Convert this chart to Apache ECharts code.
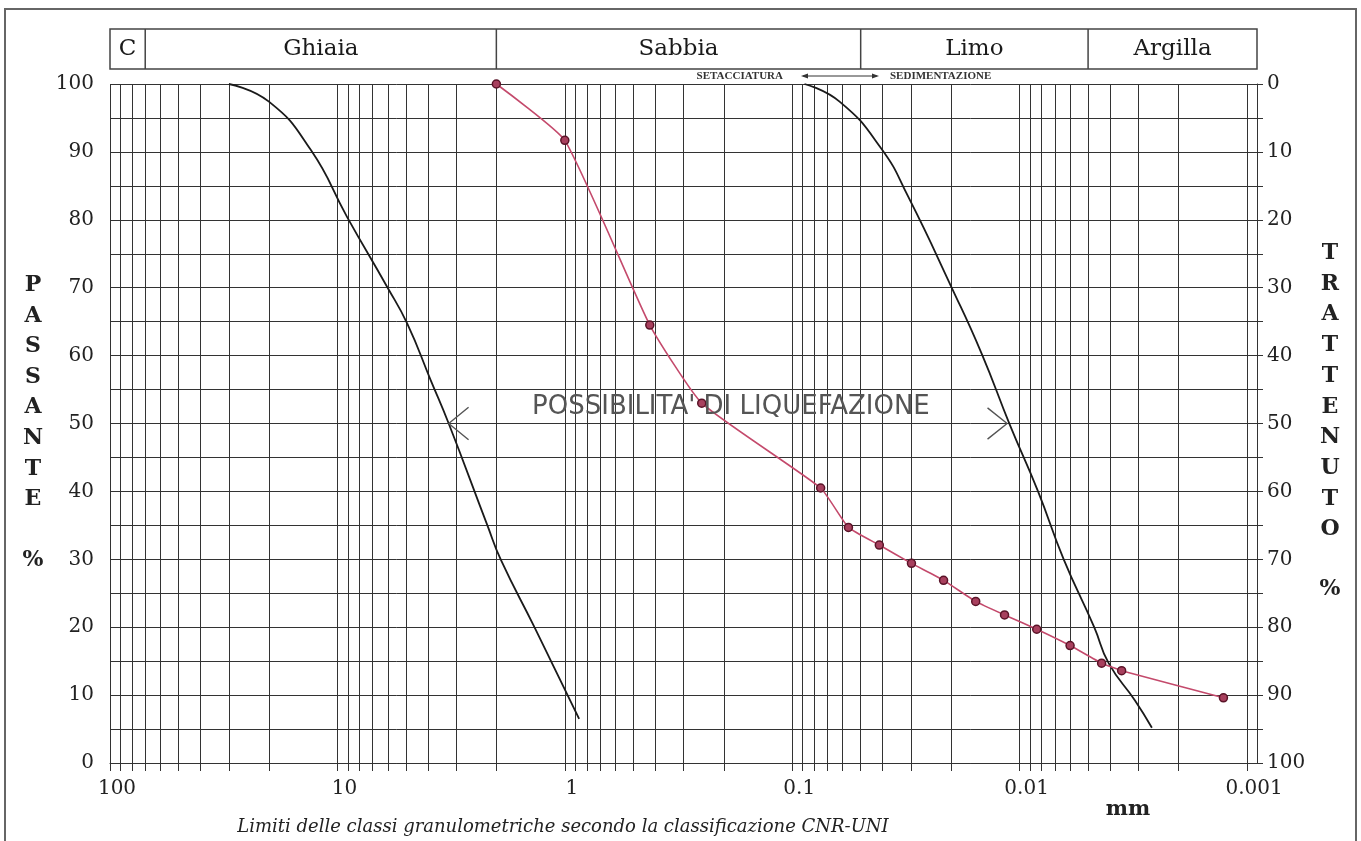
<!DOCTYPE html>
<html><head><meta charset="utf-8">
<script src="https://cdn.jsdelivr.net/npm/echarts@6/dist/echarts.min.js"></script>
<style>html,body{margin:0;padding:0;background:#fff}#c{width:1361px;height:841px}</style>
</head><body><div id="c"></div>
<script>
// ---- data ----
const sampleDiameterMm = [2, 1.0, 0.423, 0.25, 0.075, 0.0566, 0.0414, 0.0299, 0.0216, 0.0156, 0.01165, 0.00841, 0.0060, 0.00436, 0.00356, 0.00127];
const samplePassingPct = [100, 91.7, 64.5, 53.0, 40.5, 34.7, 32.1, 29.4, 26.9, 23.8, 21.8, 19.7, 17.3, 14.7, 13.6, 9.6];
const upperLimitMm  = [30, 20, 13.1, 9.06, 6.04, 4.93, 3.89, 3.24, 2.19, 1.91, 1.36, 0.865];
const upperLimitPct = [100, 97.4, 90.3, 80.4, 70.1, 64.7, 56.4, 50, 35, 29.9, 20, 6.5];
const lowerLimitMm  = [0.0883, 0.0619, 0.0406, 0.0309, 0.01995, 0.01469, 0.01104, 0.0083, 0.0064, 0.0047, 0.00406, 0.00311, 0.00262];
const lowerLimitPct = [100, 97.4, 90.5, 83.4, 70.1, 60.3, 49.8, 40, 30, 20, 14.7, 9.2, 5.2];
const xTickLabelsMm = [100, 10, 1, 0.1, 0.01, 0.001];
const passanteTickLabels = [0, 10, 20, 30, 40, 50, 60, 70, 80, 90, 100];
const passanteGridLines = [0, 5, 10, 15, 20, 25, 30, 35, 40, 45, 50, 55, 60, 65, 70, 75, 80, 85, 90, 95, 100];
const classNames = ['C', 'Ghiaia', 'Sabbia', 'Limo', 'Argilla'];
const classBoundsMm = [100, 70, 2, 0.05, 0.005];
const leftArrowMm = [2.65, 3.24, 2.65];
const leftArrowPct = [52.4, 50, 47.6];
const rightArrowMm = [0.01384, 0.01135, 0.01384];
const rightArrowPct = [52.3, 50, 47.7];

// ---- layout constants ----
const xAxisEndMm = 0.000904;
const SERIF = "'DejaVu Serif', 'Liberation Serif', serif";
const GRID = '#333';

const lg = v => Math.log10(v);
const zip = (xs, ys) => xs.map((x, i) => [lg(x), ys[i]]);
const xGrid = [];
for (let k = -3; k <= 1; k++) for (let m = 1; m <= 9; m++) xGrid.push(lg(m * Math.pow(10, k)));
xGrid.push(2);

const chart = echarts.init(document.getElementById('c'), null, {renderer: 'canvas'});
chart.setOption({
  animation: false,
  backgroundColor: '#fff',
  grid: {left: 110, right: 104, top: 84, bottom: 78, containLabel: false},
  xAxis: {
    type: 'value', inverse: true, min: lg(xAxisEndMm), max: 2,
    axisLine: {show: true, lineStyle: {color: GRID, width: 1}},
    axisTick: {show: true, inside: false, length: 8, customValues: xGrid, lineStyle: {color: GRID, width: 1}},
    axisLabel: {
      customValues: xTickLabelsMm.map(lg), margin: 16, padding: [0, 0, 0, 14],
      fontFamily: SERIF, fontSize: 20, color: '#222',
      formatter: v => { const m = xTickLabelsMm.find(t => Math.abs(lg(t) - v) < 1e-9); return m === undefined ? '' : String(m); }
    },
    splitLine: {show: true, lineStyle: {color: GRID, width: 1}}
  },
  yAxis: [{
    type: 'value', min: 0, max: 100, position: 'left',
    axisLine: {show: true, lineStyle: {color: GRID, width: 1}},
    axisTick: {show: true, inside: false, length: 8, customValues: passanteGridLines, lineStyle: {color: GRID}},
    axisLabel: {customValues: passanteTickLabels, margin: 16, fontFamily: SERIF, fontSize: 20, color: '#222'},
    splitLine: {show: true, lineStyle: {color: GRID, width: 1}}
  }, {
    type: 'value', min: 0, max: 100, inverse: true, position: 'right',
    axisLine: {show: true, lineStyle: {color: GRID, width: 1}},
    axisTick: {show: true, inside: false, length: 6, customValues: passanteGridLines, lineStyle: {color: GRID}},
    axisLabel: {customValues: passanteTickLabels, margin: 10, fontFamily: SERIF, fontSize: 20, color: '#222'},
    splitLine: {show: false}
  }],
  series: [
    {name: 'limite superiore', type: 'line', data: zip(upperLimitMm, upperLimitPct), smooth: 0.5, showSymbol: false,
     lineStyle: {color: '#1a1a1a', width: 1.8}, z: 3},
    {name: 'limite inferiore', type: 'line', data: zip(lowerLimitMm, lowerLimitPct), smooth: 0.5, showSymbol: false,
     lineStyle: {color: '#1a1a1a', width: 1.8}, z: 3},
    {name: 'freccia sx', type: 'line', data: zip(leftArrowMm, leftArrowPct), showSymbol: false,
     lineStyle: {color: '#555', width: 1.4}, z: 3},
    {name: 'freccia dx', type: 'line', data: zip(rightArrowMm, rightArrowPct), showSymbol: false,
     lineStyle: {color: '#555', width: 1.4}, z: 3},
    {name: 'campione', type: 'line', data: zip(sampleDiameterMm, samplePassingPct), smooth: 0.15,
     symbol: 'circle', symbolSize: 8, showSymbol: true,
     lineStyle: {color: '#c44a6c', width: 1.6},
     itemStyle: {color: '#a8405e', borderColor: '#5a1428', borderWidth: 1.5}, z: 5}
  ]
});

// ---- decorations positioned from the axes ----
const px = mm => chart.convertToPixel({xAxisIndex: 0}, lg(mm));
const py = p => chart.convertToPixel({yAxisIndex: 0}, p);
const xRight = px(xAxisEndMm);
const edges = classBoundsMm.map(px).concat([xRight]);
const hTop = 29, hBot = 69;
const g = [];
g.push({type: 'rect', shape: {x: 5, y: 9, width: 1351, height: 850}, style: {fill: 'none', stroke: '#666', lineWidth: 2}});
g.push({type: 'rect', shape: {x: edges[0], y: hTop, width: xRight - edges[0], height: hBot - hTop}, style: {fill: '#fff', stroke: '#444', lineWidth: 1.5}});
for (let i = 1; i < edges.length - 1; i++) {
  g.push({type: 'line', shape: {x1: edges[i], y1: hTop, x2: edges[i], y2: hBot}, style: {stroke: '#444', lineWidth: 1.5}});
}
classNames.forEach((n, i) => {
  g.push({type: 'text', x: (edges[i] + edges[i + 1]) / 2, y: 49,
    style: {text: n, font: `23px ${SERIF}`, fill: '#1a1a1a', align: 'center', verticalAlign: 'middle'}});
});
// sieving / sedimentation note
g.push({type: 'text', x: 783, y: 76, style: {text: 'SETACCIATURA', font: "bold 11px 'Liberation Serif', serif", fill: '#333', align: 'right', verticalAlign: 'middle'}});
g.push({type: 'text', x: 890, y: 76, style: {text: 'SEDIMENTAZIONE', font: "bold 11px 'Liberation Serif', serif", fill: '#333', align: 'left', verticalAlign: 'middle'}});
g.push({type: 'line', shape: {x1: 803, y1: 76, x2: 877, y2: 76}, style: {stroke: '#333', lineWidth: 1}});
g.push({type: 'polygon', shape: {points: [[801, 76], [808, 73.5], [808, 78.5]]}, style: {fill: '#333'}});
g.push({type: 'polygon', shape: {points: [[879, 76], [872, 73.5], [872, 78.5]]}, style: {fill: '#333'}});
// liquefaction label
g.push({type: 'text', x: px(0.186), y: py(52.4), z: 10,
  style: {text: "POSSIBILITA' DI LIQUEFAZIONE", font: "26px 'DejaVu Sans', sans-serif", fill: '#555', align: 'center', verticalAlign: 'middle'}});
// axis titles
g.push({type: 'text', x: 33, y: 270, style: {text: 'PASSANTE'.split('').join('\n'), font: `bold 22px ${SERIF}`, lineHeight: 30.6, fill: '#222', align: 'center', verticalAlign: 'top'}});
g.push({type: 'text', x: 33, y: 560, style: {text: '%', font: `bold 22px ${SERIF}`, fill: '#222', align: 'center', verticalAlign: 'middle'}});
g.push({type: 'text', x: 1330, y: 238, style: {text: 'TRATTENUTO'.split('').join('\n'), font: `bold 22px ${SERIF}`, lineHeight: 30.7, fill: '#222', align: 'center', verticalAlign: 'top'}});
g.push({type: 'text', x: 1330, y: 589, style: {text: '%', font: `bold 22px ${SERIF}`, fill: '#222', align: 'center', verticalAlign: 'middle'}});
g.push({type: 'text', x: 1128, y: 810, style: {text: 'mm', font: `bold 21px ${SERIF}`, fill: '#222', align: 'center', verticalAlign: 'middle'}});
g.push({type: 'text', x: 563, y: 827, style: {text: 'Limiti delle classi granulometriche secondo la classificazione CNR-UNI', font: `italic 18px ${SERIF}`, fill: '#222', align: 'center', verticalAlign: 'middle'}});
chart.setOption({graphic: g});
</script></body></html>
